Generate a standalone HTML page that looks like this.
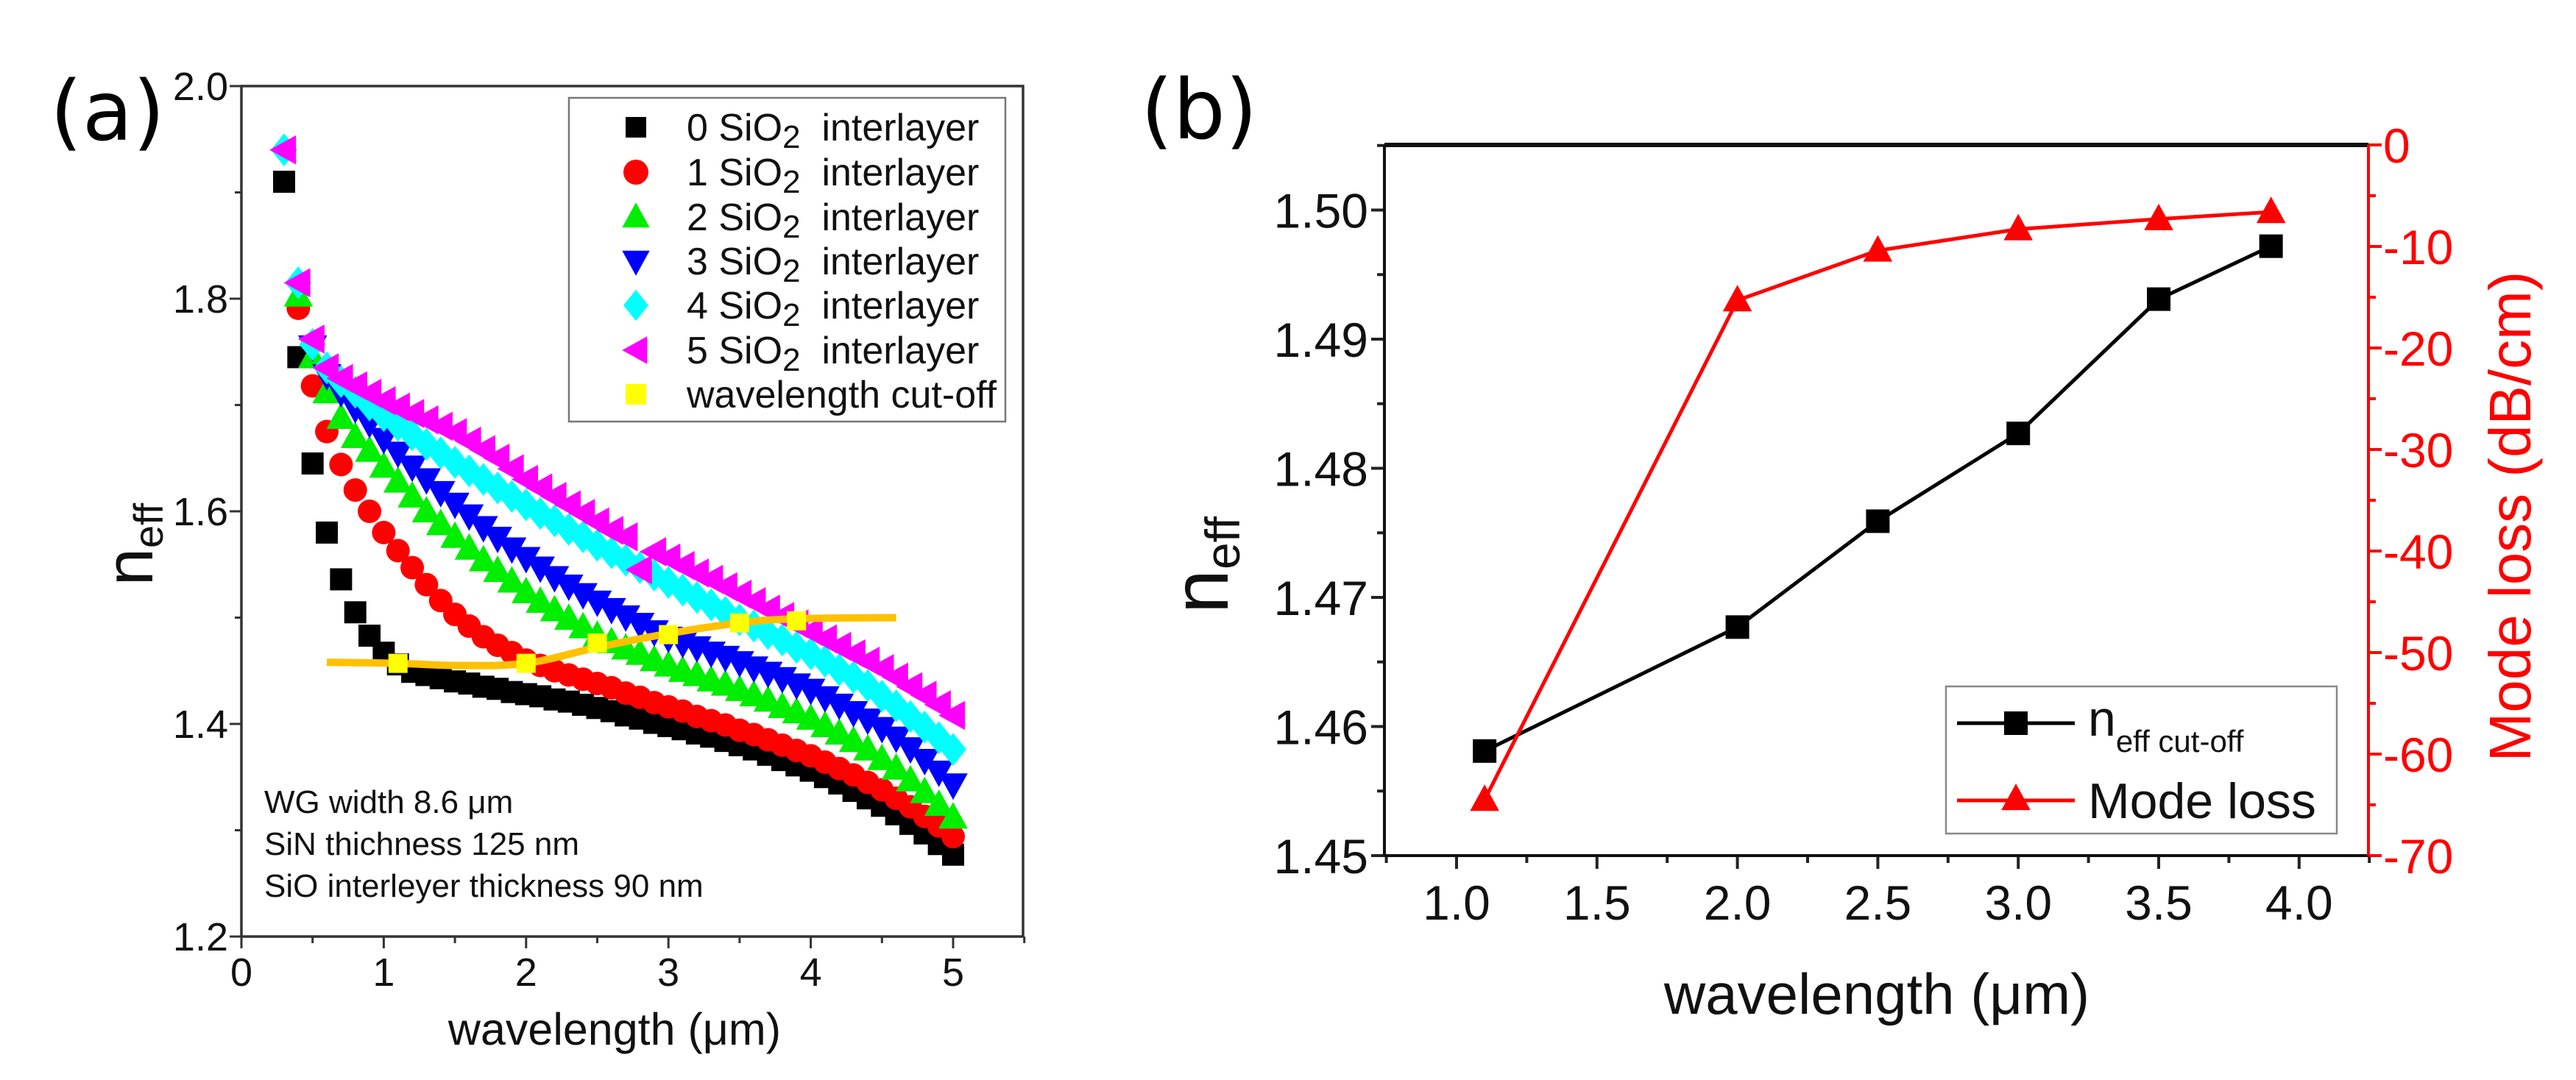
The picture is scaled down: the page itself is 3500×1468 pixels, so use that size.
<!DOCTYPE html>
<html><head><meta charset="utf-8"><style>
html,body{margin:0;padding:0;background:#fff;}
svg{display:block;font-family:"Liberation Sans",Arial,sans-serif;}
</style></head><body>
<svg id="fig" width="3500" height="1468" viewBox="0 0 3500 1468" xmlns="http://www.w3.org/2000/svg">
<rect width="3500" height="1468" fill="#fff"/>
<g id="pa"></g>
<g id="pb"></g>
</svg>
<script>
// ---------- Panel (a) data ----------
const waveA = [0.3,0.4,0.5,0.6,0.7,0.8,0.9,1.0,1.1,1.2,1.3,1.4,1.5,1.6,1.7,1.8,1.9,2.0,2.1,2.2,2.3,2.4,2.5,2.6,2.7,2.8,2.9,3.0,3.1,3.2,3.3,3.4,3.5,3.6,3.7,3.8,3.9,4.0,4.1,4.2,4.3,4.4,4.5,4.6,4.7,4.8,4.9,5.0];
const neff0 = [1.910,1.745,1.645,1.580,1.536,1.505,1.483,1.467,1.456,1.449,1.446,1.443,1.440,1.438,1.435,1.433,1.430,1.428,1.426,1.423,1.421,1.418,1.415,1.412,1.408,1.405,1.401,1.398,1.395,1.391,1.388,1.384,1.380,1.376,1.371,1.366,1.361,1.356,1.350,1.344,1.337,1.330,1.323,1.315,1.306,1.297,1.287,1.277];
const neff1 = [null,1.791,1.718,1.675,1.644,1.620,1.600,1.580,1.563,1.547,1.531,1.516,1.503,1.492,1.482,1.474,1.467,1.460,1.455,1.450,1.446,1.442,1.438,1.434,1.429,1.425,1.420,1.416,1.412,1.407,1.403,1.399,1.394,1.390,1.385,1.380,1.375,1.370,1.364,1.358,1.352,1.345,1.338,1.330,1.322,1.313,1.304,1.294];
const neff2 = [null,1.803,1.745,1.712,1.688,1.670,1.657,1.642,1.628,1.614,1.600,1.588,1.576,1.565,1.554,1.544,1.534,1.524,1.515,1.507,1.499,1.491,1.483,1.477,1.471,1.466,1.460,1.455,1.450,1.446,1.441,1.437,1.432,1.427,1.422,1.416,1.411,1.405,1.398,1.391,1.384,1.376,1.367,1.358,1.347,1.336,1.324,1.312];
const neff3 = [null,null,1.755,1.728,1.712,1.697,1.683,1.668,1.655,1.642,1.630,1.618,1.607,1.596,1.585,1.575,1.565,1.556,1.547,1.538,1.530,1.522,1.515,1.508,1.501,1.494,1.487,1.481,1.476,1.472,1.467,1.463,1.458,1.453,1.448,1.443,1.437,1.432,1.425,1.418,1.411,1.404,1.396,1.387,1.377,1.366,1.355,1.343];
const neff4 = [1.940,1.815,1.757,1.735,1.722,1.712,1.700,1.690,1.681,1.672,1.663,1.655,1.646,1.638,1.630,1.622,1.614,1.606,1.598,1.591,1.583,1.576,1.568,1.561,1.554,1.547,1.540,1.533,1.526,1.519,1.512,1.505,1.498,1.492,1.485,1.479,1.472,1.466,1.459,1.451,1.444,1.436,1.426,1.417,1.407,1.397,1.387,1.376];
const neff5 = [1.940,1.815,1.762,1.735,1.725,1.718,1.711,1.704,1.698,1.692,1.686,1.680,1.674,1.666,1.658,1.650,1.640,1.630,1.622,1.614,1.606,1.598,1.590,1.582,1.576,1.545,1.562,1.556,1.549,1.542,1.536,1.529,1.522,1.515,1.508,1.501,1.494,1.487,1.480,1.473,1.466,1.459,1.452,1.444,1.435,1.427,1.418,1.408];
const cutX = [1.1,2.0,2.5,3.0,3.5,3.9];
const cutY = [1.457,1.457,1.476,1.484,1.495,1.497];
const cutLineX = [0.6,1.1,1.5,2.0,2.5,3.0,3.5,3.9,4.6];
const cutLineY = [1.458,1.457,1.455,1.457,1.472,1.485,1.495,1.499,1.500];
const xTicksA = [0,1,2,3,4,5];
const yTicksA = [1.2,1.4,1.6,1.8,2.0];
const legendA = ["0","1","2","3","4","5"];
// ---------- Panel (b) data ----------
const waveB = [1.1,2.0,2.5,3.0,3.5,3.9];
const neffCut = [1.4581,1.4677,1.4759,1.4827,1.4931,1.4972];
const modeLoss = [-64.5,-15.3,-10.4,-8.3,-7.3,-6.6];
const xTicksB = [1.0,1.5,2.0,2.5,3.0,3.5,4.0];
const yTicksB = [1.45,1.46,1.47,1.48,1.49,1.50];
const yTicksR = [0,-10,-20,-30,-40,-50,-60,-70];

const NS="http://www.w3.org/2000/svg";
function mk(tag, attrs, parent, text){
  const e=document.createElementNS(NS,tag);
  for(const k in attrs) e.setAttribute(k,attrs[k]);
  if(text!==undefined) e.textContent=text;
  parent.appendChild(e); return e;
}
const axL=328, axR=1390, axT=117, axB=1273;
const XA=v=>axL+v*193.4;
const YA=v=>axT+(2.0-v)*1445;
const bL=1881, bR=3218, bT=197, bB=1163;
const XB=v=>1979+(v-1)*381.6;
const YB=v=>bB-(v-1.45)*17550;
const YR=v=>bB-(v+70)*13.8;

function marker(g, shape, x, y, s, fill){
  let e;
  if(shape==='sq') e=mk('rect',{x:x-s/2,y:y-s/2,width:s,height:s,fill:fill},g);
  else if(shape==='ci') e=mk('circle',{cx:x,cy:y,r:s/2,fill:fill},g);
  else if(shape==='up') e=mk('polygon',{points:`${x},${y-s*0.58} ${x-s*0.55},${y+s*0.42} ${x+s*0.55},${y+s*0.42}`,fill:fill},g);
  else if(shape==='dn') e=mk('polygon',{points:`${x},${y+s*0.58} ${x-s*0.55},${y-s*0.42} ${x+s*0.55},${y-s*0.42}`,fill:fill},g);
  else if(shape==='di') e=mk('polygon',{points:`${x},${y-s*0.62} ${x+s*0.5},${y} ${x},${y+s*0.62} ${x-s*0.5},${y}`,fill:fill},g);
  else if(shape==='lt') e=mk('polygon',{points:`${x-s*0.55},${y} ${x+s*0.45},${y-s*0.55} ${x+s*0.45},${y+s*0.55}`,fill:fill},g);
  return e;
}

// ===== Panel (a) =====
const pa=document.getElementById('pa');
const lab=mk('text',{x:68,y:190,'font-size':112,'font-family':'"DejaVu Sans",sans-serif'},pa,'(a)');


const tg=mk('g',{stroke:'#333','stroke-width':3},pa);


for(let v=0; v<=5.5001; v+=0.5){const major=Math.abs(v-Math.round(v))<1e-6; mk('line',{x1:XA(v),x2:XA(v),y1:axB,y2:axB+(major?16:9)},tg);}
for(let v=1.2; v<=2.0001; v+=0.1){const major=Math.abs(v*5-Math.round(v*5))<1e-6; mk('line',{x1:axL,x2:axL-(major?16:9),y1:YA(v),y2:YA(v)},tg);}
xTicksA.forEach(v=>{const t=mk('text',{x:XA(v),y:1340,'font-size':54,'text-anchor':'middle',fill:'#111'},pa,String(v));
 
 });
yTicksA.forEach(v=>{const t=mk('text',{x:axL-18,y:YA(v)+19,'font-size':54,'text-anchor':'end',fill:'#111'},pa,v.toFixed(1));
 
 });
const seriesA=[[neff0,'sq','#000',30],[neff1,'ci','#ff0000',32],[neff2,'up','#00ee00',36],[neff3,'dn','#0000ff',36],[neff4,'di','#00ffff',36],[neff5,'lt','#ff00ff',36]];
seriesA.forEach((s,si)=>{
  const g=mk('g',{},pa);
  
  
  s[0].forEach((v,i)=>{ if(v===null) return; const m=marker(g,s[1],XA(waveA[i]),YA(v),s[3],s[2]);
    
    });
});
let d='';
const pts=cutLineX.map((v,i)=>[XA(v),YA(cutLineY[i])]);
d='M'+pts[0][0]+','+pts[0][1];
for(let i=0;i<pts.length-1;i++){
  const p0=pts[Math.max(0,i-1)],p1=pts[i],p2=pts[i+1],p3=pts[Math.min(pts.length-1,i+2)];
  const c1=[p1[0]+(p2[0]-p0[0])/6,p1[1]+(p2[1]-p0[1])/6], c2=[p2[0]-(p3[0]-p1[0])/6,p2[1]-(p3[1]-p1[1])/6];
  d+=` C${c1[0]},${c1[1]} ${c2[0]},${c2[1]} ${p2[0]},${p2[1]}`;
}
const cl=mk('path',{d:d,fill:'none',stroke:'#ffc000','stroke-width':10},pa);


cutX.forEach((v,i)=>{const m=marker(pa,'sq',XA(v),YA(cutY[i]),26,'#ffff00');
  
  });
const fa=mk('rect',{x:axL,y:axT,width:axR-axL,height:axB-axT,fill:'none',stroke:'#333','stroke-width':3.5},pa);


const lga=mk('g',{},pa);


mk('rect',{x:773,y:133,width:593,height:440,fill:'#fff',stroke:'#777','stroke-width':2.5},lga);
const legRows=[173,234,295,355,415,476,536];
seriesA.forEach((s,i)=>{
  const e=mk('g',{},lga);
  
  
  marker(e,s[1],864,legRows[i],s[1]==='sq'?28:34,s[2]);
  const t=mk('text',{x:933,y:legRows[i]+18,'font-size':52,fill:'#111'},e);
  t.appendChild(document.createTextNode(legendA[i]+' SiO'));
  mk('tspan',{'font-size':44,dy:10},t,'2');
  mk('tspan',{dy:-10},t,'\u00a0 interlayer');
});
const le=mk('g',{},lga);


marker(le,'sq',864,legRows[6],28,'#ffff00');
mk('text',{x:933,y:legRows[6]+18,'font-size':52,fill:'#111'},le,'wavelength cut-off');
const an=mk('g',{'font-size':44,fill:'#111'},pa);


mk('text',{x:359,y:1105},an,'WG width 8.6 \u03bcm');
mk('text',{x:359,y:1162},an,'SiN thichness 125 nm');
mk('text',{x:359,y:1219},an,'SiO interleyer thickness 90 nm');
const xta=mk('text',{x:835,y:1420,'font-size':61,'text-anchor':'middle',fill:'#111'},pa,'wavelength (\u03bcm)');


const yta=mk('text',{transform:'translate(207,740) rotate(-90)','text-anchor':'middle',fill:'#111'},pa);


mk('tspan',{'font-size':92},yta,'n');
mk('tspan',{'font-size':56,dy:14},yta,'eff');

// ===== Panel (b) =====
const pb=document.getElementById('pb');
const lb=mk('text',{x:1550,y:188,'font-size':112,'font-family':'"DejaVu Sans",sans-serif'},pb,'(b)');


const tb=mk('g',{stroke:'#222','stroke-width':4},pb);


for(let v=0.75; v<=4.2501; v+=0.25){const major=Math.abs(v*2-Math.round(v*2))<1e-6; mk('line',{x1:XB(v),x2:XB(v),y1:bB,y2:bB+(major?18:10)},tb);}
for(let v=1.45; v<=1.5051; v+=0.005){const major=Math.abs(v*100-Math.round(v*100))<1e-4; mk('line',{x1:bL,x2:bL-(major?18:10),y1:YB(v),y2:YB(v)},tb);}
const tr=mk('g',{stroke:'#ff0000','stroke-width':4},pb);


for(let v=-70; v<=0; v+=5){const major=v%10===0; mk('line',{x1:bR,x2:bR+(major?18:10),y1:YR(v),y2:YR(v)},tr);}
xTicksB.forEach(v=>{const t=mk('text',{x:XB(v),y:1250,'font-size':66,'text-anchor':'middle',fill:'#111'},pb,v.toFixed(1));
 
 });
yTicksB.forEach(v=>{const t=mk('text',{x:bL-22,y:YB(v)+24,'font-size':66,'text-anchor':'end',fill:'#111'},pb,v.toFixed(2));
 
 });
yTicksR.forEach(v=>{const t=mk('text',{x:bR+20,y:YR(v)+24,'font-size':66,fill:'#ff0000'},pb,String(v));
 
 });
const fb=mk('g',{},pb);


mk('line',{x1:bL,x2:bR,y1:bT,y2:bT,stroke:'#111','stroke-width':6},fb);
mk('line',{x1:bL,x2:bR,y1:bB,y2:bB,stroke:'#111','stroke-width':4},fb);
mk('line',{x1:bL,x2:bL,y1:bT,y2:bB,stroke:'#111','stroke-width':4},fb);
mk('line',{x1:bR,x2:bR,y1:bT,y2:bB,stroke:'#ff0000','stroke-width':4},fb);
const sN=mk('g',{},pb);


mk('polyline',{points:waveB.map((v,i)=>XB(v)+','+YB(neffCut[i])).join(' '),fill:'none',stroke:'#000','stroke-width':5},sN);
const sM=mk('g',{},pb);


mk('polyline',{points:waveB.map((v,i)=>XB(v)+','+YR(modeLoss[i])).join(' '),fill:'none',stroke:'#ff0000','stroke-width':5},sM);
waveB.forEach((v,i)=>{const m=marker(sN,'sq',XB(v),YB(neffCut[i]),32,'#000');
  
  });
waveB.forEach((v,i)=>{const m=marker(sM,'up',XB(v),YR(modeLoss[i]),36,'#ff0000');
  
  });
const lgb=mk('g',{},pb);


mk('rect',{x:2644,y:933,width:531,height:200,fill:'#fff',stroke:'#888','stroke-width':2.5},lgb);
mk('line',{x1:2659,x2:2819,y1:983,y2:983,stroke:'#000','stroke-width':5},lgb);
marker(lgb,'sq',2739,983,32,'#000');
const t1=mk('text',{x:2837,y:1000,'font-size':68,fill:'#111'},lgb);
mk('tspan',{},t1,'n');
mk('tspan',{'font-size':42,dy:22},t1,'eff cut-off');
mk('line',{x1:2659,x2:2819,y1:1088,y2:1088,stroke:'#ff0000','stroke-width':5},lgb);
marker(lgb,'up',2739,1086,36,'#ff0000');
mk('text',{x:2837,y:1112,'font-size':68,fill:'#111'},lgb,'Mode loss');
const xtb=mk('text',{x:2550,y:1378,'font-size':78,'text-anchor':'middle',fill:'#111'},pb,'wavelength (\u03bcm)');


const ytb=mk('text',{transform:'translate(1668,768) rotate(-90)','text-anchor':'middle',fill:'#111'},pb);


mk('tspan',{'font-size':108},ytb,'n');
mk('tspan',{'font-size':66,dy:16},ytb,'eff');
const yrb=mk('text',{transform:'translate(3438,702) rotate(-90)','font-size':80,'text-anchor':'middle',fill:'#ff0000'},pb,'Mode loss (dB/cm)');


</script>
</body></html>
